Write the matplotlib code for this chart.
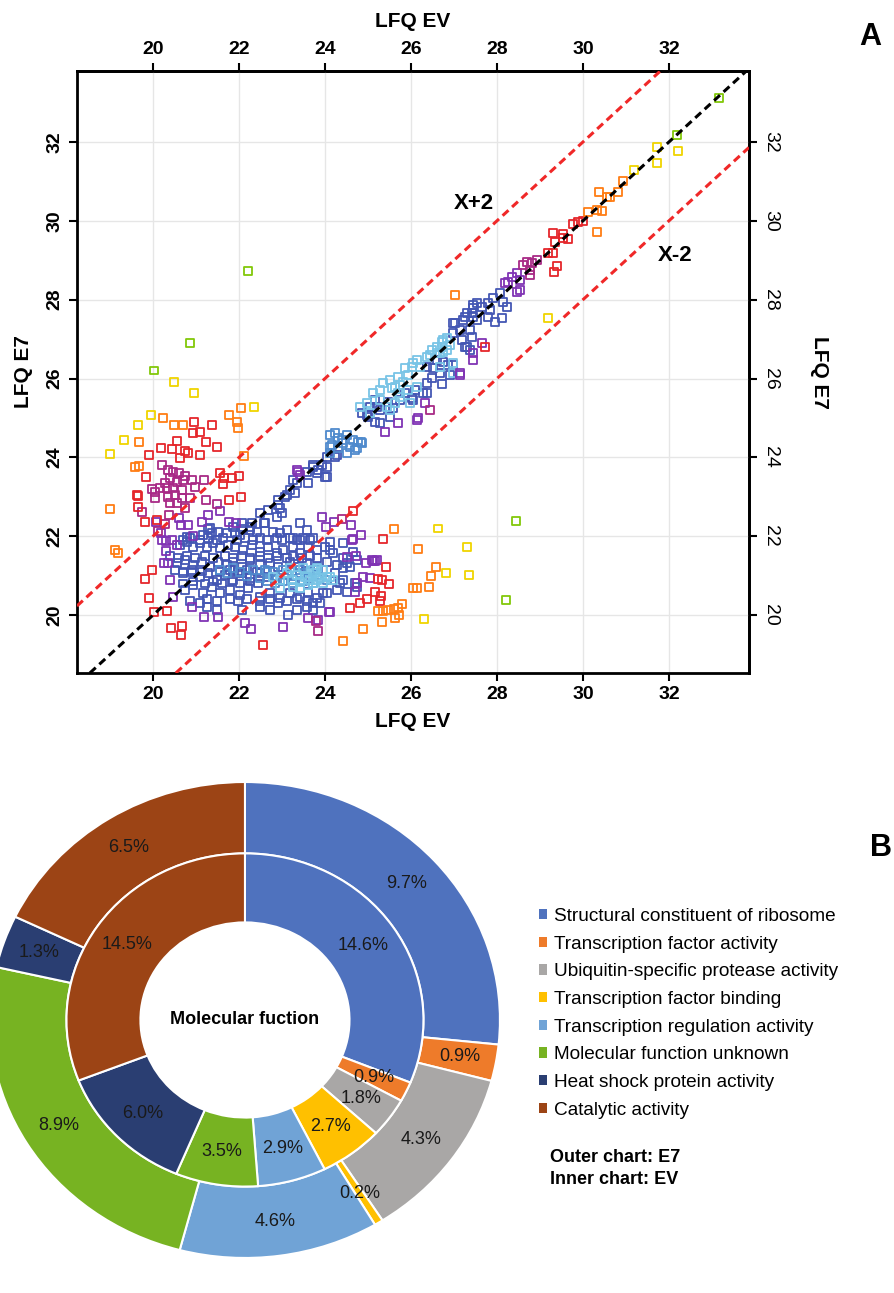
import numpy as np
import matplotlib.pyplot as plt
from matplotlib.patches import Patch

plt.rcParams['font.family'] = ['Liberation Sans', 'DejaVu Sans']
narrow = ['Liberation Sans Narrow', 'Liberation Sans', 'DejaVu Sans']

# ---- panel A: LFQ intensity, EV (x) vs E7 (y), grouped by point colour
green_pts = [(22.21, 28.73), (20.86, 26.90), (20.02, 26.20), (28.44, 22.38), (28.21, 20.38),
             (33.16, 33.11), (32.18, 32.18)]

yellow_pts = [(20.49, 25.91), (20.95, 25.63), (19.95, 25.07), (19.65, 24.82), (19.33, 24.44),
              (19.00, 24.08), (22.35, 25.28), (31.72, 31.87), (32.21, 31.77), (31.72, 31.47),
              (29.19, 27.53), (27.30, 21.73), (27.35, 21.01), (26.63, 22.20), (26.30, 19.90),
              (26.82, 21.07), (31.19, 31.29)]

orange_pts = [(22.05, 25.25), (21.77, 25.07), (21.95, 24.90), (21.98, 24.74), (20.23, 25.00),
              (20.49, 24.82), (20.70, 24.82), (19.67, 24.39), (22.12, 24.03), (19.58, 23.75),
              (19.67, 23.78), (19.00, 22.69), (19.12, 21.65), (19.19, 21.57), (30.12, 30.22),
              (30.33, 30.27), (30.44, 30.25), (30.33, 29.72), (30.37, 30.73), (30.56, 30.60),
              (30.63, 30.60), (30.81, 30.73), (30.93, 31.01), (27.02, 28.12), (24.42, 19.34),
              (24.88, 19.64), (25.33, 19.82), (25.63, 19.92), (25.72, 20.00), (25.23, 20.10),
              (25.35, 20.10), (25.47, 20.13), (25.61, 20.15), (25.79, 20.28), (25.70, 20.18),
              (26.16, 21.67), (26.05, 20.68), (26.14, 20.68), (26.42, 20.71), (26.47, 20.99),
              (26.58, 21.22), (25.61, 22.18)]

red_pts = [(20.95, 24.90), (21.37, 24.82), (20.93, 24.62), (21.09, 24.64), (20.56, 24.41),
           (21.23, 24.39), (21.49, 24.26), (20.19, 24.24), (20.44, 24.21), (20.74, 24.16),
           (20.81, 24.11), (21.09, 24.06), (19.91, 24.06), (20.63, 23.98), (19.84, 23.50),
           (19.63, 23.04), (19.65, 23.02), (19.65, 22.74), (19.81, 22.36), (21.56, 23.60),
           (21.65, 23.48), (21.84, 23.48), (22.00, 23.53), (21.63, 23.32), (21.77, 22.92),
           (22.05, 22.99), (19.81, 20.91), (19.98, 21.14), (19.91, 20.43), (20.02, 20.08),
           (20.42, 19.67), (20.67, 19.72), (20.65, 19.49), (20.33, 20.10), (20.09, 22.41),
           (22.56, 19.24), (24.58, 20.18), (24.81, 20.30), (24.98, 20.41), (25.16, 20.58),
           (25.30, 20.48), (25.28, 20.36), (25.42, 21.22), (25.33, 20.89), (25.49, 20.79),
           (25.23, 20.91), (25.35, 21.93), (24.65, 22.64), (29.19, 29.18), (29.30, 29.18),
           (29.35, 29.46), (29.40, 28.85), (29.33, 28.70), (29.30, 29.69), (29.54, 29.67),
           (29.54, 29.56), (29.65, 29.54), (29.77, 29.92), (29.88, 29.97), (30.00, 30.00),
           (27.72, 26.80)]

magenta_pts = [(20.21, 23.81), (20.35, 23.68), (20.47, 23.63), (20.60, 23.60), (20.74, 23.53),
               (20.91, 23.42), (20.40, 23.48), (20.56, 23.37), (20.70, 23.42), (20.28, 23.35),
               (20.16, 23.22), (19.98, 23.20), (20.05, 23.12), (20.33, 23.22), (20.47, 23.22),
               (20.67, 23.17), (20.98, 23.25), (20.51, 23.04), (20.67, 22.97), (20.86, 22.97),
               (20.35, 22.99), (20.05, 22.97), (20.40, 22.84), (20.56, 22.84), (20.74, 22.71),
               (20.37, 22.54), (20.28, 22.31), (21.19, 23.42), (21.23, 22.92), (21.49, 22.82),
               (20.12, 22.13), (19.74, 22.61), (26.44, 25.20), (23.84, 19.59), (24.40, 22.43),
               (28.61, 28.88), (28.70, 28.96), (28.77, 28.75), (28.82, 28.93), (28.77, 28.63),
               (28.93, 29.01), (23.79, 19.85)]

purple_pts = [(20.07, 22.36), (20.60, 22.46), (20.65, 22.28), (20.81, 22.28), (20.19, 22.08),
              (20.21, 21.90), (21.56, 22.64), (21.28, 22.54), (21.14, 22.36), (21.77, 22.36),
              (21.93, 22.33), (20.93, 22.00), (20.56, 21.78), (20.30, 21.62), (20.30, 21.88),
              (20.26, 21.32), (20.35, 21.32), (20.40, 20.89), (21.19, 19.95), (21.51, 19.95),
              (20.91, 20.20), (20.47, 20.46), (22.14, 19.80), (22.28, 19.64), (23.02, 19.70),
              (23.93, 22.49), (24.21, 22.36), (24.02, 22.23), (24.61, 22.28), (24.84, 22.03),
              (24.65, 21.93), (24.72, 21.50), (24.51, 21.47), (24.74, 20.81), (24.70, 20.58),
              (24.09, 20.08), (23.61, 19.92), (23.84, 19.87), (24.88, 20.96), (24.95, 21.32),
              (25.12, 21.37), (25.16, 21.37), (25.21, 21.40), (25.09, 21.40), (25.05, 20.94),
              (24.12, 20.08), (24.63, 21.90), (20.44, 21.90), (23.35, 23.68), (23.42, 23.55),
              (23.37, 23.63), (25.40, 24.64), (25.70, 24.87), (26.14, 24.95), (26.33, 25.38),
              (26.16, 25.00), (27.14, 26.09), (27.44, 26.47), (27.44, 26.65), (27.65, 26.90),
              (27.14, 26.14), (28.19, 28.42), (28.26, 28.45), (28.35, 28.58), (28.47, 28.68),
              (28.54, 28.50), (28.54, 28.25), (28.47, 28.19)]

blue_pts = [
    # lower cluster
    (21.33, 22.21), (21.51, 22.11), (21.72, 22.08), (21.86, 22.23), (22.07, 22.33), (22.26, 22.23),
    (22.42, 22.11), (22.58, 22.33), (22.79, 22.11), (22.95, 22.08), (23.12, 22.16), (23.26, 21.95),
    (23.42, 22.33), (23.58, 22.16), (23.72, 21.95),
    (20.63, 21.78), (20.79, 21.85), (20.93, 21.73), (21.09, 21.83), (21.26, 21.73), (21.40, 21.83),
    (21.56, 21.70), (21.74, 21.78), (21.91, 21.73), (22.09, 21.65), (22.30, 21.78), (22.49, 21.60),
    (22.67, 21.73), (22.88, 21.57), (23.02, 21.65), (23.26, 21.73), (23.42, 21.57), (23.61, 21.73),
    (23.81, 21.65), (24.00, 21.73), (24.19, 21.57), (24.42, 21.83),
    (20.56, 21.32), (20.74, 21.40), (20.93, 21.27), (21.14, 21.34), (21.33, 21.22), (21.51, 21.34),
    (21.72, 21.27), (21.86, 21.34), (22.07, 21.22), (22.26, 21.40), (22.49, 21.27), (22.72, 21.32),
    (22.91, 21.22), (23.19, 21.34), (23.37, 21.22), (23.58, 21.32), (23.81, 21.22), (24.05, 21.34),
    (24.28, 21.27), (24.51, 21.32),
    (20.70, 21.07), (20.91, 21.09), (21.09, 20.96), (21.28, 21.07), (21.49, 20.89), (21.67, 21.01),
    (21.86, 20.89), (22.07, 21.07), (22.26, 20.94), (22.49, 21.07), (22.67, 20.96), (24.23, 21.07),
    (24.42, 20.89),
    (20.74, 20.63), (20.93, 20.76), (21.16, 20.56), (21.37, 20.71), (21.56, 20.56), (21.79, 20.63),
    (22.02, 20.51), (22.21, 20.68), (22.49, 20.46), (22.72, 20.56), (22.95, 20.43), (23.19, 20.56),
    (23.42, 20.46), (23.61, 20.58), (23.81, 20.43), (24.05, 20.56), (24.28, 20.63),
    (21.09, 20.30), (21.26, 20.20), (21.49, 20.13), (22.07, 20.13), (22.49, 20.20), (22.72, 20.13),
    (22.91, 20.30), (23.14, 20.00), (23.35, 20.13), (23.58, 20.20), (23.72, 20.13),
    (23.42, 21.90), (24.12, 21.65), (24.42, 21.45), (24.65, 21.60), (24.74, 21.40), (24.58, 21.22),
    (24.42, 21.19), (24.35, 20.81), (24.70, 20.81), (24.74, 20.71), (24.51, 20.58), (23.95, 20.56),
    (23.88, 20.30), (23.72, 20.30), (24.12, 21.85),
    (21.37, 22.08), (21.28, 22.18), (21.16, 22.03), (20.79, 21.98), (20.70, 21.90), (21.91, 22.08),
    (22.02, 22.03), (22.09, 22.18), (22.26, 22.16),
    (20.86, 21.95), (21.09, 21.90), (21.28, 21.95), (21.49, 21.90), (21.63, 21.95), (21.95, 21.90),
    (22.14, 21.95), (22.33, 21.90), (22.49, 21.95), (22.65, 21.90), (22.88, 21.95), (23.00, 21.90),
    (23.19, 21.95), (23.35, 21.90), (23.49, 21.95), (23.65, 21.90),
    (20.40, 21.50), (20.58, 21.45), (20.79, 21.50), (20.98, 21.45), (21.21, 21.50), (21.40, 21.45),
    (21.67, 21.50), (21.86, 21.45), (22.07, 21.50), (22.26, 21.45), (22.49, 21.50), (22.67, 21.45),
    (22.88, 21.50), (23.12, 21.45), (23.26, 21.50), (23.47, 21.45), (23.65, 21.50), (23.81, 21.45),
    (20.51, 21.15), (20.70, 21.10), (20.91, 21.15), (21.14, 21.10), (21.56, 21.10), (21.79, 21.15),
    (21.98, 21.10), (22.19, 21.15), (22.42, 21.10),
    (20.70, 20.80), (20.93, 20.85), (21.21, 20.80), (21.40, 20.85), (21.60, 20.80), (21.84, 20.85),
    (22.02, 20.80), (22.26, 20.85), (22.44, 20.80),
    (20.86, 20.36), (21.26, 20.40), (21.49, 20.36), (21.79, 20.40), (21.98, 20.36), (22.19, 20.40),
    (22.49, 20.36), (22.72, 20.40), (23.12, 20.36), (23.35, 20.40), (23.58, 20.36),
    # diagonal
    (22.49, 22.59), (22.67, 22.66), (22.95, 22.71), (22.91, 22.92), (23.12, 23.04), (23.30, 23.10),
    (22.30, 22.33), (23.35, 23.35), (23.19, 23.17), (23.07, 22.99), (22.91, 22.79), (22.88, 22.49),
    (23.00, 22.59), (22.60, 22.33), (23.26, 23.42),
    (23.58, 23.63), (23.61, 23.35), (23.72, 23.81), (23.84, 23.68), (23.93, 23.81), (24.00, 23.50),
    (24.05, 24.01), (23.72, 23.75), (23.81, 23.60), (24.05, 23.75), (24.05, 23.50), (24.28, 24.06),
    (24.23, 24.01),
    (24.86, 25.12), (24.98, 25.07), (25.05, 25.28), (25.16, 25.45), (25.28, 25.20), (25.51, 25.02),
    (25.58, 25.25), (25.75, 25.45), (25.86, 25.63), (26.02, 25.51), (26.09, 25.71), (26.37, 25.63),
    (26.72, 25.86), (25.00, 25.02), (25.21, 25.28), (25.16, 24.90), (25.28, 24.87), (25.47, 25.40),
    (26.05, 25.45), (26.28, 25.63), (26.37, 25.89), (26.49, 26.01), (26.37, 26.29), (26.51, 26.27),
    (26.61, 26.47), (26.75, 26.42), (26.86, 26.34), (26.68, 26.14), (26.98, 26.34), (26.91, 26.09),
    (27.02, 27.41), (27.14, 27.23), (27.19, 26.98), (27.26, 26.80), (27.37, 26.72), (27.26, 27.56),
    (27.42, 27.66), (27.44, 27.86), (27.54, 27.48), (26.98, 27.15), (26.98, 27.41), (27.21, 27.48),
    (27.30, 27.66), (27.44, 27.79), (27.54, 27.92), (27.65, 27.81), (27.79, 27.92), (27.84, 27.74),
    (27.91, 28.04), (28.07, 28.17), (28.14, 27.94), (28.23, 27.81), (28.12, 27.53), (27.95, 27.43),
    (27.79, 27.56), (27.44, 27.56), (27.37, 27.23), (27.42, 27.05), (27.30, 26.80)]

midblue_pts = [(22.88, 20.89), (23.12, 21.01), (23.26, 20.89), (23.42, 21.07), (23.61, 20.94),
               (23.81, 21.01), (24.05, 20.89),
               (22.60, 21.15), (22.79, 21.10), (23.02, 21.15), (23.23, 21.10), (23.42, 21.15),
               (23.65, 21.10), (23.84, 21.15),
               (22.65, 20.85), (22.84, 20.80), (23.02, 20.85), (23.26, 20.80), (23.49, 20.85),
               (23.72, 20.80),
               (21.56, 21.14), (21.72, 21.07), (21.86, 21.19), (22.02, 21.09), (22.19, 20.99),
               (22.33, 21.14), (22.49, 20.94), (22.65, 21.09),
               (24.16, 24.31), (24.12, 24.57), (24.23, 24.62), (24.30, 24.49), (24.42, 24.36),
               (24.51, 24.57), (24.58, 24.26), (24.65, 24.44), (24.70, 24.19), (24.84, 24.39),
               (24.51, 24.11), (24.30, 24.24), (24.12, 24.26), (24.40, 24.44), (24.77, 24.39),
               (24.86, 24.36), (24.12, 24.11), (24.74, 24.24)]

lightblue_pts = [(22.79, 20.96), (22.95, 20.89), (23.12, 21.07), (23.23, 20.89), (23.35, 21.01),
                 (23.42, 20.84), (23.54, 20.96), (23.65, 20.89), (23.77, 21.07), (23.88, 20.94),
                 (23.26, 20.71), (23.42, 20.68), (23.61, 20.76), (23.72, 20.81), (23.19, 21.19),
                 (23.49, 21.19), (23.81, 21.19), (22.95, 20.68), (23.95, 20.81), (24.12, 20.96),
                 (23.58, 20.96), (23.72, 21.14), (23.81, 20.89), (23.95, 21.14), (24.05, 20.96),
                 (24.19, 20.89),
                 (25.28, 25.71), (25.56, 25.76), (25.75, 25.84), (26.05, 26.39), (26.21, 26.29),
                 (26.37, 26.55), (26.44, 26.60), (26.61, 26.65), (26.72, 26.80), (26.84, 26.72),
                 (25.75, 25.53), (25.98, 25.38), (25.63, 25.38), (25.28, 25.45), (25.12, 25.63),
                 (24.98, 25.38), (24.81, 25.28), (25.05, 25.12), (25.51, 25.20), (25.35, 25.89),
                 (25.51, 25.96), (25.70, 26.04), (25.81, 25.91), (25.93, 26.09), (25.86, 26.27),
                 (26.02, 26.29), (26.14, 26.47), (25.93, 25.71), (26.14, 25.78), (25.44, 25.28),
                 (25.70, 25.63), (25.63, 25.78), (26.49, 26.72), (26.61, 26.80), (26.72, 26.93),
                 (26.84, 27.03), (26.75, 26.67), (26.91, 26.85), (26.68, 26.65), (26.75, 26.98),
                 (26.98, 26.39), (26.98, 26.14), (26.68, 26.29)]

point_groups = [
    (blue_pts, '#4457b4'),
    (midblue_pts, '#4f8acd'),
    (lightblue_pts, '#78c4e6'),
    (purple_pts, '#8034b4'),
    (magenta_pts, '#a82a86'),
    (red_pts, '#e5262b'),
    (orange_pts, '#ff7d14'),
    (yellow_pts, '#f0d400'),
    (green_pts, '#82c80a'),
]

ev_ticks = [20, 22, 24, 26, 28, 30, 32]
e7_ticks = [20, 22, 24, 26, 28, 30, 32]

# ---- panel B: molecular function, % of proteins
categories = ['Structural constituent of ribosome', 'Transcription factor activity',
              'Ubiquitin-specific protease activity', 'Transcription factor binding',
              'Transcription regulation activity', 'Molecular function unknown',
              'Heat shock protein activity', 'Catalytic activity']
ev_pct = [14.6, 0.9, 1.8, 2.7, 2.9, 3.5, 6.0, 14.5]
e7_pct = [9.7, 0.9, 4.3, 0.2, 4.6, 8.9, 1.3, 6.5]
cat_colors = ['#4f72be', '#ee7b2a', '#a9a7a6', '#ffc000', '#70a3d6', '#77b322', '#2a3e72', '#9c4415']

fig = plt.figure(figsize=(8.95, 12.93), dpi=100)

# scatter panel
ax = fig.add_axes([0.086, 0.4795, 0.7508, 0.4656])
ax.set_xlim(18.23, 33.86)
ax.set_ylim(18.53, 33.80)
ax.grid(True, color='#e6e6e6', lw=1)
ax.set_axisbelow(True)

for pts, col in point_groups:
    arr = np.array(pts)
    ax.scatter(arr[:, 0], arr[:, 1], marker='s', s=30, facecolors='none',
               edgecolors=col, linewidths=1.3, zorder=2)

dash = (0, (2.6, 1.6))
ax.axline((20, 20), slope=1, color='black', lw=2.2, ls=dash, zorder=3)
ax.axline((20, 22), slope=1, color='#f02828', lw=2.2, ls=dash, zorder=3)
ax.axline((22, 20), slope=1, color='#f02828', lw=2.2, ls=dash, zorder=3)
ax.text(27.47, 30.45, 'X+2', fontsize=16, fontweight='bold', ha='center', va='center')
ax.text(32.14, 29.13, 'X-2', fontsize=16, fontweight='bold', ha='center', va='center')

ax.set_xticks(ev_ticks)
ax.set_yticks(e7_ticks)
ax.tick_params(direction='out', length=6, width=1.5)
for lab in ax.get_xticklabels() + ax.get_yticklabels():
    lab.set_family(narrow)
    lab.set_fontsize(14)
    lab.set_fontweight('bold')
for lab in ax.get_yticklabels():
    lab.set_rotation(90)
    lab.set_va('center')
for sp in ax.spines.values():
    sp.set_linewidth(2)
ax.set_xlabel('LFQ EV', fontsize=15, fontweight='bold', labelpad=6)
ax.set_ylabel('LFQ E7', fontsize=15, fontweight='bold', labelpad=10)

top = ax.secondary_xaxis('top')
top.set_xticks(ev_ticks)
top.tick_params(direction='out', length=6, width=1.5)
for lab in top.get_xticklabels():
    lab.set_family(narrow)
    lab.set_fontsize(14)
    lab.set_fontweight('bold')
top.spines['top'].set_linewidth(2)
top.set_xlabel('LFQ EV', fontsize=15, fontweight='bold', labelpad=10)

right = ax.secondary_yaxis('right')
right.set_yticks(e7_ticks)
right.tick_params(direction='out', length=6, width=1.5)
for lab in right.get_yticklabels():
    lab.set_family(narrow)
    lab.set_fontsize(14)
    lab.set_rotation(270)
    lab.set_va('center')
right.spines['right'].set_linewidth(2)
right.set_ylabel('LFQ E7', fontsize=15, fontweight='bold', rotation=270, labelpad=36)

fig.text(0.972, 0.971, 'A', fontsize=22, fontweight='bold', ha='center', va='center')

# donut panel
axp = fig.add_axes([-0.0112, 0.0271, 0.5698, 0.3681])
outer_w, _ = axp.pie(e7_pct, radius=1.0, colors=cat_colors, startangle=90, counterclock=False,
                     wedgeprops=dict(width=0.30, edgecolor='white', linewidth=1.5))
inner_w, _ = axp.pie(ev_pct, radius=0.70, colors=cat_colors, startangle=90, counterclock=False,
                     wedgeprops=dict(width=0.29, edgecolor='white', linewidth=1.5))
axp.set_aspect('auto')
axp.set_xlim(-1, 1)
axp.set_ylim(-1, 1)

for wedges, vals, r in [(outer_w, e7_pct, 0.855), (inner_w, ev_pct, 0.56)]:
    for w, v in zip(wedges, vals):
        a = np.deg2rad((w.theta1 + w.theta2) / 2)
        axp.text(r * np.cos(a), r * np.sin(a), f'{v:.1f}%', ha='center', va='center',
                 fontsize=13, color='#1a1a1a')
axp.text(0, 0, 'Molecular fuction', ha='center', va='center', fontsize=13, fontweight='bold')

handles = [Patch(facecolor=c) for c in cat_colors]
fig.legend(handles, categories, loc='upper left', bbox_to_anchor=(0.602, 1 - 908 / 1293),
           frameon=False, fontsize=13.7, handlelength=0.45, handleheight=0.45,
           handletextpad=0.35, labelspacing=0.56, borderaxespad=0, borderpad=0)
fig.text(550 / 895, 1 - 1157 / 1293, 'Outer chart: E7', fontsize=13, fontweight='bold', va='center')
fig.text(550 / 895, 1 - 1180 / 1293, 'Inner chart: EV', fontsize=13, fontweight='bold', va='center')
fig.text(892 / 895, 1 - 848 / 1293, 'B', fontsize=22, fontweight='bold', ha='right', va='center')

fig.savefig('out.png', dpi=100)
